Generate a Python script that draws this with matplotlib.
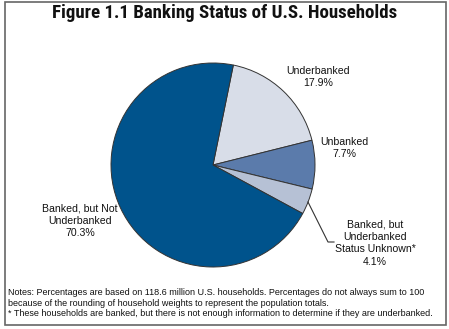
import matplotlib
matplotlib.use("Agg")
import matplotlib.pyplot as plt
from matplotlib.patches import Rectangle
from matplotlib import font_manager

plt.rcParams['font.family'] = ['Liberation Sans', 'DejaVu Sans']

title = "Figure 1.1 Banking Status of U.S. Households"
categories = ["Underbanked", "Unbanked", "Banked, but\nUnderbanked\nStatus Unknown*", "Banked, but Not\nUnderbanked"]
values = [17.9, 7.7, 4.1, 70.3]
colors = ["#d8dde8", "#5b7bab", "#b6c1d5", "#00538c"]
notes = ("Notes: Percentages are based on 118.6 million U.S. households. Percentages do not always sum to 100\n"
         "because of the rounding of household weights to represent the population totals.\n"
         "* These households are banked, but there is not enough information to determine if they are underbanked.")

available = {f.name for f in font_manager.fontManager.ttflist}
title_font = 'DejaVu Sans'
for cand in ['Roboto Condensed', 'Liberation Sans Narrow', 'Archivo Narrow', 'Barlow Condensed',
             'Sofia Sans Condensed', 'Saira SemiCondensed']:
    if cand in available:
        title_font = cand
        break

W, H = 449, 329
fig = plt.figure(figsize=(W / 100, H / 100), dpi=100)
ax = fig.add_axes([0, 0, 1, 1])

cx, cy, r = 213, H - 165, 102
ax.pie(values, colors=colors, startangle=78.5, counterclock=False,
       center=(cx, cy), radius=r,
       wedgeprops=dict(edgecolor="#333333", linewidth=0.7))
ax.set_xlim(0, W)
ax.set_ylim(0, H)
ax.set_aspect('auto')
ax.axis('off')

# frame
ax.add_patch(Rectangle((4.5, H - 325), 441, 323, fill=False, edgecolor="#666666", linewidth=1.2))

t = ax.text(W / 2, H - 13, title, ha='center', va='center', fontsize=14, fontweight='bold',
            family=[title_font, 'DejaVu Sans'], color="#111111")
fig.canvas.draw()
w = t.get_window_extent().width
t.set_fontsize(min(16, 14 * 348 / w))

fs = 7.6
lab = dict(ha='center', va='center', fontsize=fs, color="#111111", linespacing=1.3)
ax.text(318, H - 77, f"{categories[0]}\n{values[0]:.1f}%", **lab)
ax.text(344, H - 148, f"{categories[1]}\n{values[1]:.1f}%", **lab)
ax.text(375, H - 243, f"{categories[2]}\n{values[2]:.1f}%", **lab)
ax.text(80, H - 221, f"{categories[3]}\n{values[3]:.1f}%", **lab)

# leader line
ax.plot([308, 328, 334], [H - 202, H - 242, H - 242], color="#333333", linewidth=0.8)

ax.text(8, H - 303, notes, ha='left', va='center', fontsize=6.5, color="#111111", linespacing=1.2)

fig.savefig("out.png", dpi=100)
